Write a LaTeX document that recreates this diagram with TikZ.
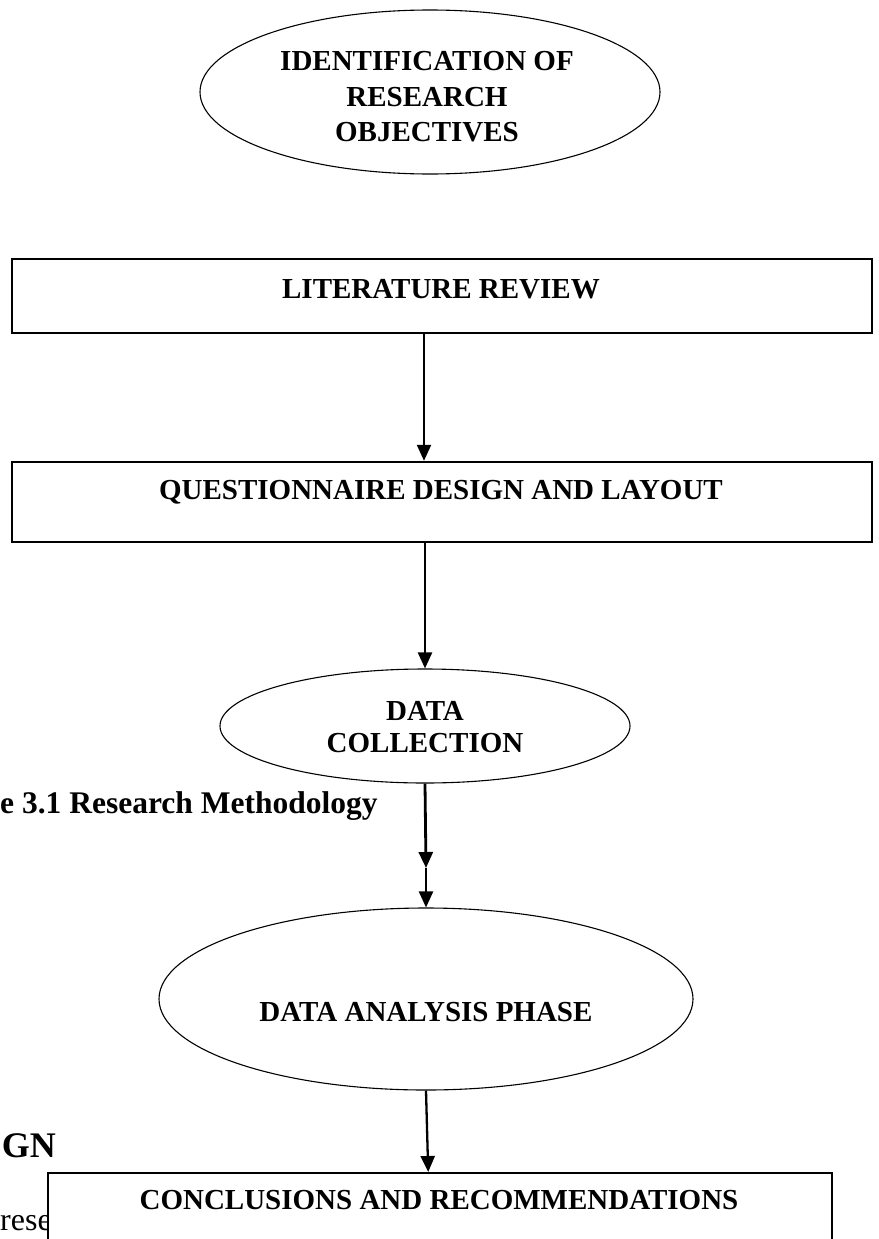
\documentclass[tikz,border=0pt]{standalone}
\usepackage{fontspec}
\setmainfont{Liberation Serif}
\usetikzlibrary{shapes.geometric,arrows.meta}
\begin{document}
\begin{tikzpicture}[x=1pt,y=-1pt,
  oval/.style={draw,line width=1.1pt,ellipse,inner sep=0pt},
  box/.style={draw,line width=2.4pt,fill=white,rectangle,inner sep=0pt},
  lbl/.style={font=\fontsize{29}{33}\selectfont\bfseries,align=center,inner sep=0pt},
  flow/.style={line width=2.3pt,-{Triangle[length=16pt,width=14pt]}},
]
\useasboundingbox (0,0) rectangle (878,1239);
\clip (0,0) rectangle (878,1239);

% background document text
\node[font=\fontsize{31.5}{36}\selectfont\bfseries,anchor=base west,inner sep=0pt] (cap) at (0,813) {e 3.1 Research Methodology};
\node[font=\fontsize{36}{40}\selectfont\bfseries,anchor=base east,inner sep=0pt] (hd) at (56,1157) {GN};
\node[font=\fontsize{32}{36}\selectfont,anchor=base west,inner sep=0pt] (body) at (0,1230) {rese};

% shapes
\node[oval,minimum width=460pt,minimum height=164pt] (obj) at (430,92) {};
\node[lbl,font=\fontsize{29}{35.5}\selectfont\bfseries] (objt) at (427,97) {IDENTIFICATION OF\\RESEARCH\\OBJECTIVES};

\node[box,minimum width=860pt,minimum height=74pt] (lit) at (442,296) {};
\node[lbl] (litt) at (441,289) {LITERATURE REVIEW};

\node[box,minimum width=860pt,minimum height=80pt] (quest) at (442,502) {};
\node[lbl] (questt) at (441,492) {QUESTIONNAIRE DESIGN AND LAYOUT};

\node[oval,minimum width=410pt,minimum height=114pt] (dc) at (425,726) {};
\node[lbl,font=\fontsize{29}{32}\selectfont\bfseries] (dct) at (425,727) {DATA\\COLLECTION};

\node[oval,minimum width=534pt,minimum height=182pt] (da) at (426,999) {};
\node[lbl] (dat) at (426,1012) {DATA ANALYSIS PHASE};

\node[box,minimum width=784pt,minimum height=140pt,anchor=north west] (con) at (47,1172) {};
\node[lbl] (cont) at (439,1200) {CONCLUSIONS AND RECOMMENDATIONS};

% connectors
\coordinate (mid) at (426,868);
\draw[flow] ([xshift=-18pt]lit.south) -- ([xshift=-18pt]quest.north);
\draw[flow] ([xshift=-17pt]quest.south) -- (dc.north);
\draw[flow,line width=2.8pt] (dc.south) -- (mid);
\draw[flow] (mid) -- (da.north);
\draw[flow] (da.south) -- ([xshift=-12pt]con.north);
\end{tikzpicture}
\end{document}
